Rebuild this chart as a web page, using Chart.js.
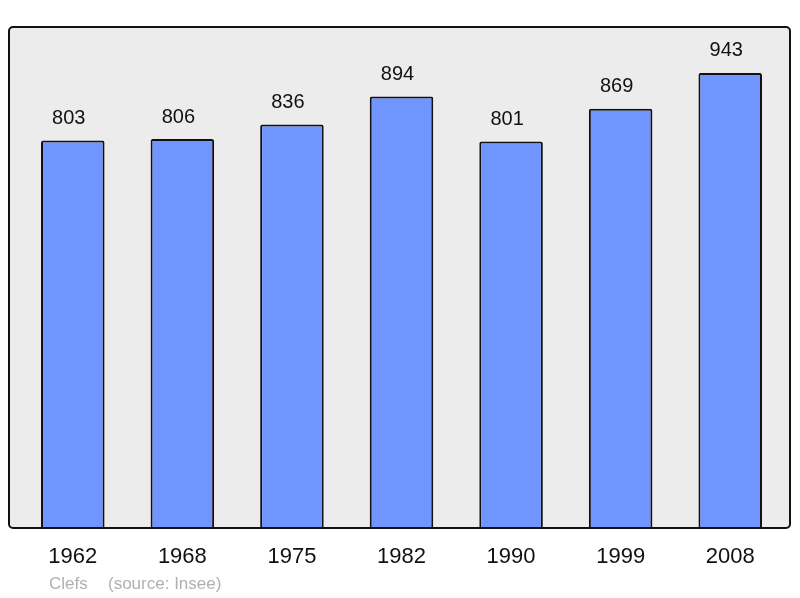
<!DOCTYPE html>
<html>
<head>
<meta charset="utf-8">
<script src="https://cdn.jsdelivr.net/npm/chart.js@4.4.1/dist/chart.umd.min.js"></script>
<style>
  body { margin: 0; background: #fff; }
  #wrap { width: 800px; height: 598px; }
</style>
</head>
<body>
<div id="wrap"><canvas id="popChart" width="800" height="598"></canvas></div>
<script>
'use strict'

// census years and population
const years = ['1962', '1968', '1975', '1982', '1990', '1999', '2008'];
const population = [803, 806, 836, 894, 801, 869, 943];
const yMax = 1038;

const fontName = '"Liberation Sans", Arial, sans-serif';

// grey framed box behind the bars
const boxPlugin = {
    id: 'box',
    beforeDraw: function (chart) {
        const ctx = chart.ctx;
        ctx.save();
        ctx.beginPath();
        ctx.roundRect(9, 27, 781, 501, 4);
        ctx.fillStyle = '#ececec';
        ctx.fill();
        ctx.restore();
    },
    afterDatasetsDraw: function (chart) {
        const ctx = chart.ctx;
        ctx.save();
        ctx.beginPath();
        ctx.roundRect(9, 27, 781, 501, 4);
        ctx.lineWidth = 2;
        ctx.strokeStyle = '#111';
        ctx.stroke();

        // value labels over the bars
        const meta = chart.getDatasetMeta(0);
        ctx.font = '20px ' + fontName;
        ctx.fillStyle = '#111';
        ctx.textAlign = 'center';
        ctx.textBaseline = 'middle';
        meta.data.forEach(function (bar, i) {
            ctx.fillText(String(population[i]), bar.x - 4, bar.y - 22);
        });

        // footer
        ctx.font = '17px ' + fontName;
        ctx.fillStyle = '#b0b0b0';
        ctx.textAlign = 'left';
        ctx.fillText('Clefs', 49, 584);
        ctx.fillText('(source: Insee)', 108, 584);
        ctx.restore();
    }
};

new Chart(document.getElementById('popChart'), {
    type: 'bar',
    data: {
        labels: years,
        datasets: [{
            data: population,
            backgroundColor: '#7095ff',
            borderColor: '#111',
            borderWidth: 2,
            borderRadius: 2,
            borderSkipped: 'bottom',
            barPercentage: 0.58,
            categoryPercentage: 1
        }]
    },
    options: {
        responsive: false,
        animation: false,
        layout: {
            padding: { left: 18, right: 15, top: 27, bottom: 13 }
        },
        plugins: {
            legend: { display: false },
            tooltip: { enabled: false }
        },
        scales: {
            y: {
                display: false,
                min: 0,
                max: yMax
            },
            x: {
                grid: { display: false, drawTicks: false },
                border: { display: false },
                ticks: {
                    color: '#111',
                    padding: 15,
                    font: { family: fontName, size: 22 }
                }
            }
        }
    },
    plugins: [boxPlugin]
});
</script>
</body>
</html>
